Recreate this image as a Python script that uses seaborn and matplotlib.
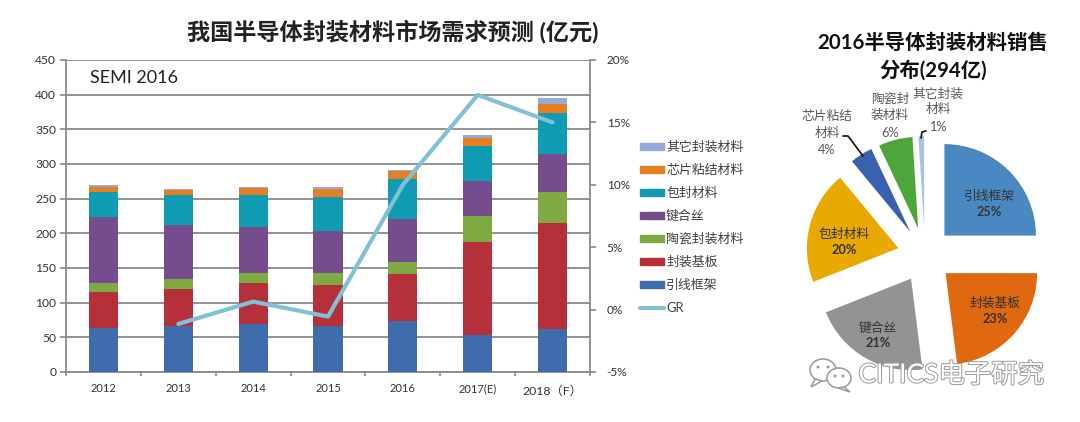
import numpy as np
import pandas as pd
import seaborn as sns
import matplotlib.pyplot as plt
import matplotlib.patheffects as pe
from matplotlib.lines import Line2D
from matplotlib.patches import Ellipse, Polygon, Patch
from matplotlib.ticker import MultipleLocator, FixedLocator, FuncFormatter
from matplotlib.transforms import ScaledTranslation

W, H = 1080, 422

years = ['2012', '2013', '2014', '2015', '2016', '2017(E)', '2018（F）']
# 每层的数值 (亿元), 从图上读的
leadframe = [64, 67, 69.5, 67, 73, 53, 62]
substrate = [51, 53, 58.5, 58, 69, 134, 153]
ceramic = [13, 14, 14.5, 17.5, 17, 38.5, 44]
bonding = [95, 78, 66.5, 60.5, 61, 50.5, 56]
encapsulant = [36, 44, 47, 50, 58.5, 50, 58]
die_attach = [8, 6, 9, 11, 11.5, 11, 14]
other = [3, 2.5, 2, 3, 2, 5.5, 8.5]
gr = [np.nan, -1.15, 0.64, -0.56, 10.0, 17.2, 15.0]

series_names = ['引线框架', '封装基板', '陶瓷封装材料', '键合丝', '包封材料', '芯片粘结材料', '其它封装材料']
series_values = [leadframe, substrate, ceramic, bonding, encapsulant, die_attach, other]
series_colors = ['#3F6DAB', '#B5303A', '#7FAA42', '#754C8E', '#0F9BB2', '#E67E22', '#96ABD9']

pie_names = ['引线框架', '封装基板', '键合丝', '包封材料', '芯片粘结材料', '陶瓷封装材料', '其它封装材料']
pie_values = [25, 23, 21, 20, 4, 6, 1]
pie_colors = ['#4A88C2', '#E0690F', '#939393', '#E8A902', '#3A60B0', '#4EA53C', '#A3C4E8']

sns.set_theme(style='white')
plt.rcParams['font.family'] = ['Lato', 'Noto Sans CJK SC', 'DejaVu Sans']

fig = plt.figure(figsize=(W / 100, H / 100), dpi=100)


def px_axes(x0, y0, x1, y1):
    # 像素坐标 (左上为原点) 转成 figure 的比例
    return fig.add_axes([x0 / W, 1 - y1 / H, (x1 - x0) / W, (y1 - y0) / H])


def px_text(x, y, s, **kw):
    kw.setdefault('ha', 'center')
    kw.setdefault('va', 'center')
    return fig.text(x / W, 1 - y / H, s, **kw)


# 左图: 堆叠柱 + 增长率折线
ax = px_axes(66, 60, 590, 372)
df = pd.DataFrame({'year': years})
bottom = np.zeros(len(years))
for name, vals, col in zip(series_names, series_values, series_colors):
    df[name] = vals
    sns.barplot(data=df, x='year', y=name, bottom=bottom, color=col, width=0.39,
                saturation=1, ax=ax, zorder=3, linewidth=0)
    bottom = bottom + np.array(vals)

ax.set_xlim(-0.5, len(years) - 0.5)
ax.set_ylim(0, 450)
ax.yaxis.set_major_locator(MultipleLocator(50))
ax.set_xlabel('')
ax.set_ylabel('')
ax.grid(axis='y', color='#8A8A8A', lw=1.3, zorder=0)
ax.set_axisbelow(True)
ax.tick_params(axis='y', length=4, width=1.2, color='#8A8A8A', labelsize=8.7, labelcolor='#333333', pad=3, left=True)
ax.tick_params(axis='x', which='major', length=0, labelsize=8, labelcolor='#333333', pad=8)
ax.xaxis.set_minor_locator(FixedLocator(np.arange(len(years) + 1) - 0.5))
ax.tick_params(axis='x', which='minor', length=3, width=1.2, color='#8A8A8A', bottom=True)
for s in ['top', 'left', 'right', 'bottom']:
    ax.spines[s].set_color('#8A8A8A')
    ax.spines[s].set_linewidth(1.3)
ax.spines['top'].set_visible(False)

# 2018 的标签比其它的低一点
last = ax.get_xticklabels()[-1]
last.set_transform(last.get_transform() + ScaledTranslation(0, -2 / 100, fig.dpi_scale_trans))
last.set_fontsize(8.8)

ax2 = ax.twinx()
sns.lineplot(x=np.arange(len(years)), y=gr, color='#82C1D5', lw=3, ax=ax2, sort=False, errorbar=None)
ax2.set_ylim(-5, 20)
ax2.yaxis.set_major_locator(MultipleLocator(5))
ax2.yaxis.set_major_formatter(FuncFormatter(lambda v, p: f'{v:.0f}%'))
ax2.grid(False)
ax2.tick_params(axis='y', length=4, width=1.2, color='#8A8A8A', labelsize=8.5, labelcolor='#333333', pad=8, right=True)
for s in ax2.spines.values():
    s.set_visible(False)

handles = [Patch(color=c, label=n) for n, c in zip(series_names, series_colors)][::-1]
handles.append(Line2D([], [], color='#82C1D5', lw=3, label='GR'))
fig.legend(handles=handles, loc='upper left', bbox_to_anchor=(628 / W, 1 - 129 / H), frameon=False,
           fontsize=9.3, handlelength=1.9, handleheight=0.5, handletextpad=0.15, labelspacing=0.84,
           labelcolor='#404040', borderpad=0.4)

px_text(134, 78, 'SEMI 2016', fontsize=13, color='#222222')
px_text(393, 31, '我国半导体封装材料市场需求预测 (亿元)', fontsize=16.7, fontweight='bold', color='#222222')

# 右图: 分离的饼图
pie_ax = px_axes(925 - 137.25, 255 - 137.25, 925 + 137.25, 255 + 137.25)
pie_ax.pie(pie_values, colors=pie_colors, explode=[0.3] * len(pie_values), startangle=90,
           counterclock=False, radius=1, wedgeprops={'lw': 0})
pie_ax.set_xlim(-1.5, 1.5)
pie_ax.set_ylim(-1.5, 1.5)
pie_ax.axis('off')

px_text(933, 43, '2016半导体封装材料销售', fontsize=14.7, fontweight='bold', color='#111111')
px_text(933, 70, '分布(294亿)', fontsize=14.7, fontweight='bold', color='#111111')

inner = [(989, 196, '引线框架', 212, '25%'), (995, 303, '封装基板', 319, '23%'),
         (878, 328, '键合丝', 343, '21%'), (844, 234, '包封材料', 250, '20%')]
for x, y, name, y2, pct in inner:
    px_text(x, y, name, fontsize=9.2, color='#333333')
    px_text(x, y2, pct, fontsize=9.2, color='#333333', fontweight='bold')

outer = [(827, [116, 133, 150], ['芯片粘结', '材料', '4%']),
         (890, [99, 115, 133], ['陶瓷封', '装材料', '6%']),
         (938, [94, 109, 127], ['其它封装', '材料', '1%'])]
for x, ys, lines in outer:
    for y, s in zip(ys, lines):
        px_text(x, y, s, fontsize=9.2, color='#595959')

# 引导线
for xs, ys in [([843, 848, 863], [136, 136, 156]), ([926, 922, 921], [131, 132, 138])]:
    fig.add_artist(Line2D(np.array(xs) / W, 1 - np.array(ys) / H, color='#111111', lw=1.2))

# 水印
stroke = [pe.withStroke(linewidth=1.4, foreground='#9A9A9A')]
px_text(951, 375, 'CITICS电子研究', fontsize=19, color='white', path_effects=stroke, zorder=20)
ov = fig.add_axes([0, 0, 1, 1], zorder=15)
ov.set_xlim(0, W)
ov.set_ylim(H, 0)
ov.axis('off')
ov.patch.set_alpha(0)
ov.add_patch(Ellipse((823, 370), 26, 22, fc='white', ec='#9A9A9A', lw=1.1))
ov.add_patch(Polygon([[815, 379], [811, 387], [822, 381]], fc='white', ec='#9A9A9A', lw=1.1))
ov.add_patch(Ellipse((839, 378), 24, 20, fc='white', ec='#9A9A9A', lw=1.1))
ov.add_patch(Polygon([[844, 387], [850, 392], [838, 388]], fc='white', ec='#9A9A9A', lw=1.1))
for ex, ey in [(818, 367), (828, 367), (835, 376), (843, 376)]:
    ov.add_patch(Ellipse((ex, ey), 3, 3, fc='#9A9A9A', ec='none'))

fig.savefig('out.png', dpi=100, facecolor='white')
